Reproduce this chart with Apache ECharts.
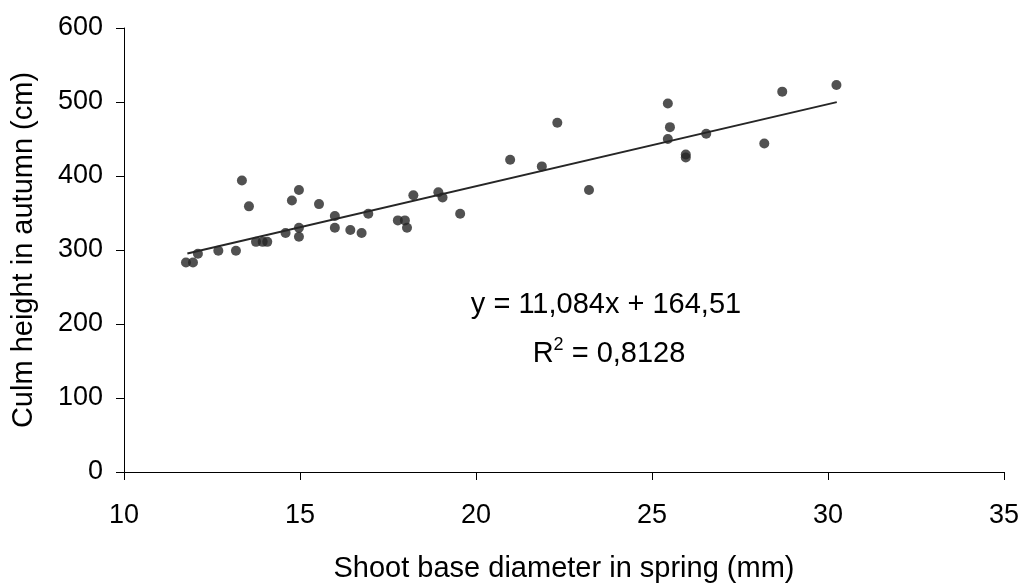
<!DOCTYPE html>
<html><head><meta charset="utf-8">
<script src="https://cdn.jsdelivr.net/npm/echarts@6/dist/echarts.min.js"></script>
<style>html,body{margin:0;padding:0;background:#fff}#c{width:1021px;height:585px}</style>
</head><body><div id="c"></div>
<script>
const diameter = [11.76,11.96,12.1,12.68,13.18,13.35,13.55,13.75,13.94,14.07,14.59,14.77,14.97,14.97,14.97,15.54,15.99,15.99,16.43,16.75,16.94,17.78,17.98,18.04,18.22,18.93,19.05,19.55,20.97,21.87,22.31,23.21,25.45,25.45,25.51,25.96,25.96,26.54,28.19,28.7,30.24];
const height = [283,283,295,299,299,394,359,311,311,311,323,367,381,330,318,362,346,330,327,323,349,340,340,330,374,378,371,349,422,413,472,381,498,450,466,429,425,457,444,514,523];
const trendX = [11.8, 30.25];
const trendY = [295.3, 499.8];
const xTicks = [10,15,20,25,30,35];
const yTicks = [0,100,200,300,400,500,600];
const eqText = 'y = 11,084x + 164,51';
const r2Text = '0,8128';

const pts = diameter.map((d,i)=>[d,height[i]]);
const trend = trendX.map((d,i)=>[d,trendY[i]]);
const font = "'Liberation Sans', Arial, sans-serif";
const chart = echarts.init(document.getElementById('c'));
chart.setOption({
  animation:false,
  grid:{left:124,right:17,top:28,bottom:113,containLabel:false,outerBoundsMode:'none'},
  xAxis:{type:'value',min:xTicks[0],max:xTicks[xTicks.length-1],interval:5,
    name:'Shoot base diameter in spring (mm)',nameLocation:'middle',nameGap:82,
    nameTextStyle:{fontFamily:font,fontSize:29,color:'#000'},
    axisLine:{onZero:false,lineStyle:{color:'#000',width:1}},
    axisTick:{show:true,length:8,inside:false,lineStyle:{color:'#000'}},
    axisLabel:{fontFamily:font,fontSize:27,color:'#000',margin:30},
    splitLine:{show:false}},
  yAxis:{type:'value',min:yTicks[0],max:yTicks[yTicks.length-1],interval:100,
    name:'Culm height in autumn (cm)',nameLocation:'middle',nameGap:86,
    nameTextStyle:{fontFamily:font,fontSize:29,color:'#000'},
    axisLine:{show:true,lineStyle:{color:'#000',width:1}},
    axisTick:{show:true,length:8,lineStyle:{color:'#000'}},
    axisLabel:{fontFamily:font,fontSize:27,color:'#000',margin:21},
    splitLine:{show:false}},
  series:[
    {type:'scatter',data:pts,symbol:'circle',symbolSize:10,itemStyle:{color:'#262626'},z:3},
    {type:'line',data:trend,symbol:'none',lineStyle:{color:'#262626',width:2},z:2}
  ],
  graphic:[
    {type:'text',x:606,y:305,style:{text:eqText,fontFamily:font,fontSize:29,fill:'#000',align:'center',verticalAlign:'middle'}},
    {type:'text',x:609,y:352,style:{text:'{a|R}{s|2}{a| = '+r2Text+'}',align:'center',verticalAlign:'middle',rich:{a:{fontFamily:font,fontSize:29,color:'#000',lineHeight:32,verticalAlign:'bottom'},s:{fontFamily:font,fontSize:18,color:'#000',lineHeight:32,verticalAlign:'top'}}}}
  ]
});
</script></body></html>
